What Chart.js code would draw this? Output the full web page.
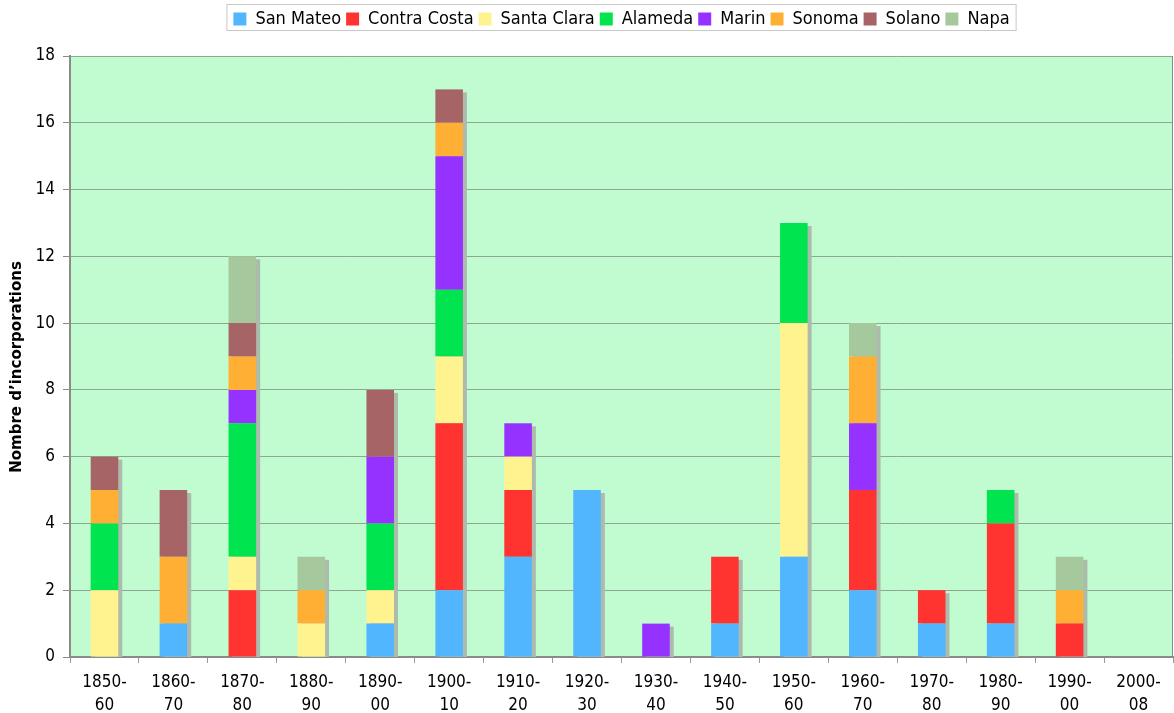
<!DOCTYPE html>
<html>
<head>
<meta charset="utf-8">
<script src="https://cdn.jsdelivr.net/npm/chart.js@4/dist/chart.umd.min.js"></script>
<style>
	html, body { margin: 0; padding: 0; background: #fff; }
	#wrap { width: 1174px; height: 713px; }
</style>
</head>
<body>
<div id="wrap"><canvas id="chart" width="1174" height="713"></canvas></div>
<script>
// Incorporations per decade, by county

const periods = [
	['1850-', '60'], ['1860-', '70'], ['1870-', '80'], ['1880-', '90'],
	['1890-', '00'], ['1900-', '10'], ['1910-', '20'], ['1920-', '30'],
	['1930-', '40'], ['1940-', '50'], ['1950-', '60'], ['1960-', '70'],
	['1970-', '80'], ['1980-', '90'], ['1990-', '00'], ['2000-', '08']
];

const sanMateo    = [0, 1, 0, 0, 1, 2, 3, 5, 0, 1, 3, 2, 1, 1, 0, 0];
const contraCosta = [0, 0, 2, 0, 0, 5, 2, 0, 0, 2, 0, 3, 1, 3, 1, 0];
const santaClara  = [2, 0, 1, 1, 1, 2, 1, 0, 0, 0, 7, 0, 0, 0, 0, 0];
const alameda     = [2, 0, 4, 0, 2, 2, 0, 0, 0, 0, 3, 0, 0, 1, 0, 0];
const marin       = [0, 0, 1, 0, 2, 4, 1, 0, 1, 0, 0, 2, 0, 0, 0, 0];
const sonoma      = [1, 2, 1, 1, 0, 1, 0, 0, 0, 0, 0, 2, 0, 0, 1, 0];
const solano      = [1, 2, 1, 0, 2, 1, 0, 0, 0, 0, 0, 0, 0, 0, 0, 0];
const napa        = [0, 0, 2, 1, 0, 0, 0, 0, 0, 0, 0, 1, 0, 0, 1, 0];

const yTicks = [0, 2, 4, 6, 8, 10, 12, 14, 16, 18];

const FONT = '"DejaVu Sans Condensed", "DejaVu Sans", Verdana, sans-serif';
const TITLE_FONT = '"DejaVu Sans", Verdana, sans-serif';

// grey drop shadow behind each stack + plot background
const shadowPlugin = {
	id: 'barShadow',
	beforeInit(chart) {
		// fixed legend band height
		const legend = chart.legend;
		if (legend) {
			const fit = legend.fit;
			legend.fit = function () {
				fit.call(this);
				this.height = 51;
			};
		}
	},
	beforeDatasetsDraw(chart) {
		const { ctx, scales } = chart;
		const y = scales.y;
		const meta0 = chart.getDatasetMeta(0);
		ctx.save();
		ctx.fillStyle = '#adbbad';
		meta0.data.forEach((bar, i) => {
			let total = 0;
			chart.data.datasets.forEach(ds => { total += ds.data[i]; });
			if (!total) return;
			const w = bar.width;
			const top = y.getPixelForValue(total);
			const bottom = y.getPixelForValue(0);
			ctx.fillRect(bar.x - w / 2 + 4, top + 3, w, bottom - top - 3);
		});
		ctx.restore();
	},
	beforeDraw(chart) {
		const { ctx, chartArea } = chart;
		ctx.save();
		ctx.fillStyle = '#c0fcd0';
		ctx.fillRect(chartArea.left, chartArea.top, chartArea.right - chartArea.left, chartArea.bottom - chartArea.top);
		ctx.restore();
	},
	afterDraw(chart) {
		const { ctx, chartArea } = chart;
		ctx.save();
		ctx.strokeStyle = '#8a8a8a';
		ctx.lineWidth = 1;
		ctx.beginPath();
		ctx.moveTo(chartArea.right - 0.5, chartArea.top);
		ctx.lineTo(chartArea.right - 0.5, chartArea.bottom);
		ctx.stroke();
		// legend frame
		const boxes = chart.legend.legendHitBoxes;
		if (boxes && boxes.length) {
			const l = Math.min(...boxes.map(b => b.left)) - 7;
			const r = Math.max(...boxes.map(b => b.left + b.width)) + 6;
			ctx.strokeStyle = '#c8c8c8';
			ctx.strokeRect(l + 0.5, 4.5, r - l, 26);
		}
		ctx.restore();
	}
};

const series = [
	{ label: 'San Mateo',    data: sanMateo,    color: '#52b6ff' },
	{ label: 'Contra Costa', data: contraCosta, color: '#ff3330' },
	{ label: 'Santa Clara',  data: santaClara,  color: '#fff38f' },
	{ label: 'Alameda',      data: alameda,     color: '#00e44f' },
	{ label: 'Marin',        data: marin,       color: '#9532ff' },
	{ label: 'Sonoma',       data: sonoma,      color: '#ffb034' },
	{ label: 'Solano',       data: solano,      color: '#a66467' },
	{ label: 'Napa',         data: napa,        color: '#a6c89d' }
];

new Chart(document.getElementById('chart').getContext('2d'), {
	type: 'bar',
	data: {
		labels: periods,
		datasets: series.map(s => ({
			label: s.label,
			data: s.data,
			backgroundColor: s.color,
			borderWidth: 0,
			categoryPercentage: 1,
			barPercentage: 0.4
		}))
	},
	plugins: [shadowPlugin],
	options: {
		responsive: false,
		animation: false,
		layout: { padding: { top: 5, right: 1, left: 0, bottom: 0 } },
		plugins: {
			tooltip: { enabled: false },
			legend: {
				position: 'top',
				fullSize: false,
				labels: {
					color: '#000',
					font: { family: FONT, size: 18 },
					boxWidth: 13,
					boxHeight: 13,
					padding: 5
				}
			}
		},
		scales: {
			x: {
				stacked: true,
				offset: true,
				grid: {
					offset: true,
					drawOnChartArea: false,
					drawTicks: true,
					tickLength: 6,
					color: '#9a9a9a',
					tickWidth: 1
				},
				border: { color: '#8a8a8a', width: 2 },
				ticks: {
					color: '#000',
					font: { family: FONT, size: 17, lineHeight: 1.3 },
					padding: 9,
					maxRotation: 0,
					autoSkip: false
				},
				afterFit(scale) { scale.height = 56; }
			},
			y: {
				stacked: true,
				min: 0,
				max: 18,
				afterBuildTicks(scale) { scale.ticks = yTicks.map(v => ({ value: v })); },
				grid: {
					color: '#8fa695',
					lineWidth: 1,
					tickLength: 7,
					tickColor: '#8a8a8a'
				},
				border: { color: '#8a8a8a', width: 2 },
				ticks: {
					color: '#000',
					font: { family: FONT, size: 17 },
					padding: 8
				},
				title: {
					display: true,
					text: 'Nombre d\u2019incorporations    ',
					color: '#000',
					font: { family: TITLE_FONT, size: 15, weight: 'bold' },
					padding: { top: 8, bottom: 4 }
				},
				afterFit(scale) { scale.width = 70; }
			}
		}
	}
});
</script>
</body>
</html>
